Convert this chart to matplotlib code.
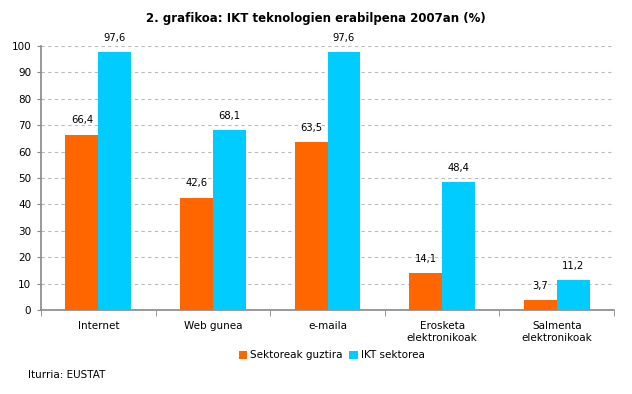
import numpy as np
import matplotlib
matplotlib.use("Agg")
from matplotlib import pyplot as plt

categories = ["Internet", "Web gunea", "e-maila", "Erosketa\nelektronikoak", "Salmenta\nelektronikoak"]
sektoreak = [66.4, 42.6, 63.5, 14.1, 3.7]
ikt = [97.6, 68.1, 97.6, 48.4, 11.2]
series_names = ["Sektoreak guztira", "IKT sektorea"]

fig = plt.figure(figsize=(6.32, 3.94), dpi=100)
ax = fig.add_axes([0.0649, 0.2132, 0.9066, 0.67])

x = np.arange(len(categories))
w = 0.287
b1 = ax.bar(x - w/2, sektoreak, w, color="#FF6600", label=series_names[0], zorder=3)
b2 = ax.bar(x + w/2, ikt, w, color="#00CCFF", label=series_names[1], zorder=3)

for bars, vals in ((b1, sektoreak), (b2, ikt)):
    for r, v in zip(bars, vals):
        ax.text(r.get_x() + r.get_width()/2, v + 3.5, ("%.1f" % v).replace(".", ","),
                ha="center", va="bottom", fontsize=7.2)

ax.set_xlim(-0.5, len(categories) - 0.5)
ax.set_ylim(0, 100)
ax.set_yticks(range(0, 101, 10))
ax.tick_params(axis="y", labelsize=7.5, length=3, color="#888888", pad=4)
ax.set_xticks(x)
ax.set_xticklabels(categories, fontsize=7.5)
ax.tick_params(axis="x", length=0, pad=8)
ax.set_xticks(np.arange(-0.5, len(categories)), minor=True)
ax.tick_params(axis="x", which="minor", length=4, color="#888888")

ax.yaxis.grid(True, linestyle=(0, (3, 3)), color="#BBBBBB", linewidth=0.8, zorder=0)
ax.spines["top"].set_visible(False)
ax.spines["right"].set_visible(False)
ax.spines["left"].set_color("#888888")
ax.spines["bottom"].set_color("#888888")
ax.spines["left"].set_linewidth(1.2)
ax.spines["bottom"].set_linewidth(1.2)

fig.text(0.5, 0.952, "2. grafikoa: IKT teknologien erabilpena 2007an (%)",
         ha="center", va="center", fontsize=8.5, fontweight="bold")
fig.legend(loc="center", bbox_to_anchor=(0.525, 0.098), ncol=2, frameon=False,
           fontsize=7.5, handlelength=0.8, handleheight=0.8, handletextpad=0.3,
           columnspacing=0.6)
fig.text(0.045, 0.047, "Iturria: EUSTAT", ha="left", va="center", fontsize=7.5)

fig.savefig("out.png", dpi=100)
